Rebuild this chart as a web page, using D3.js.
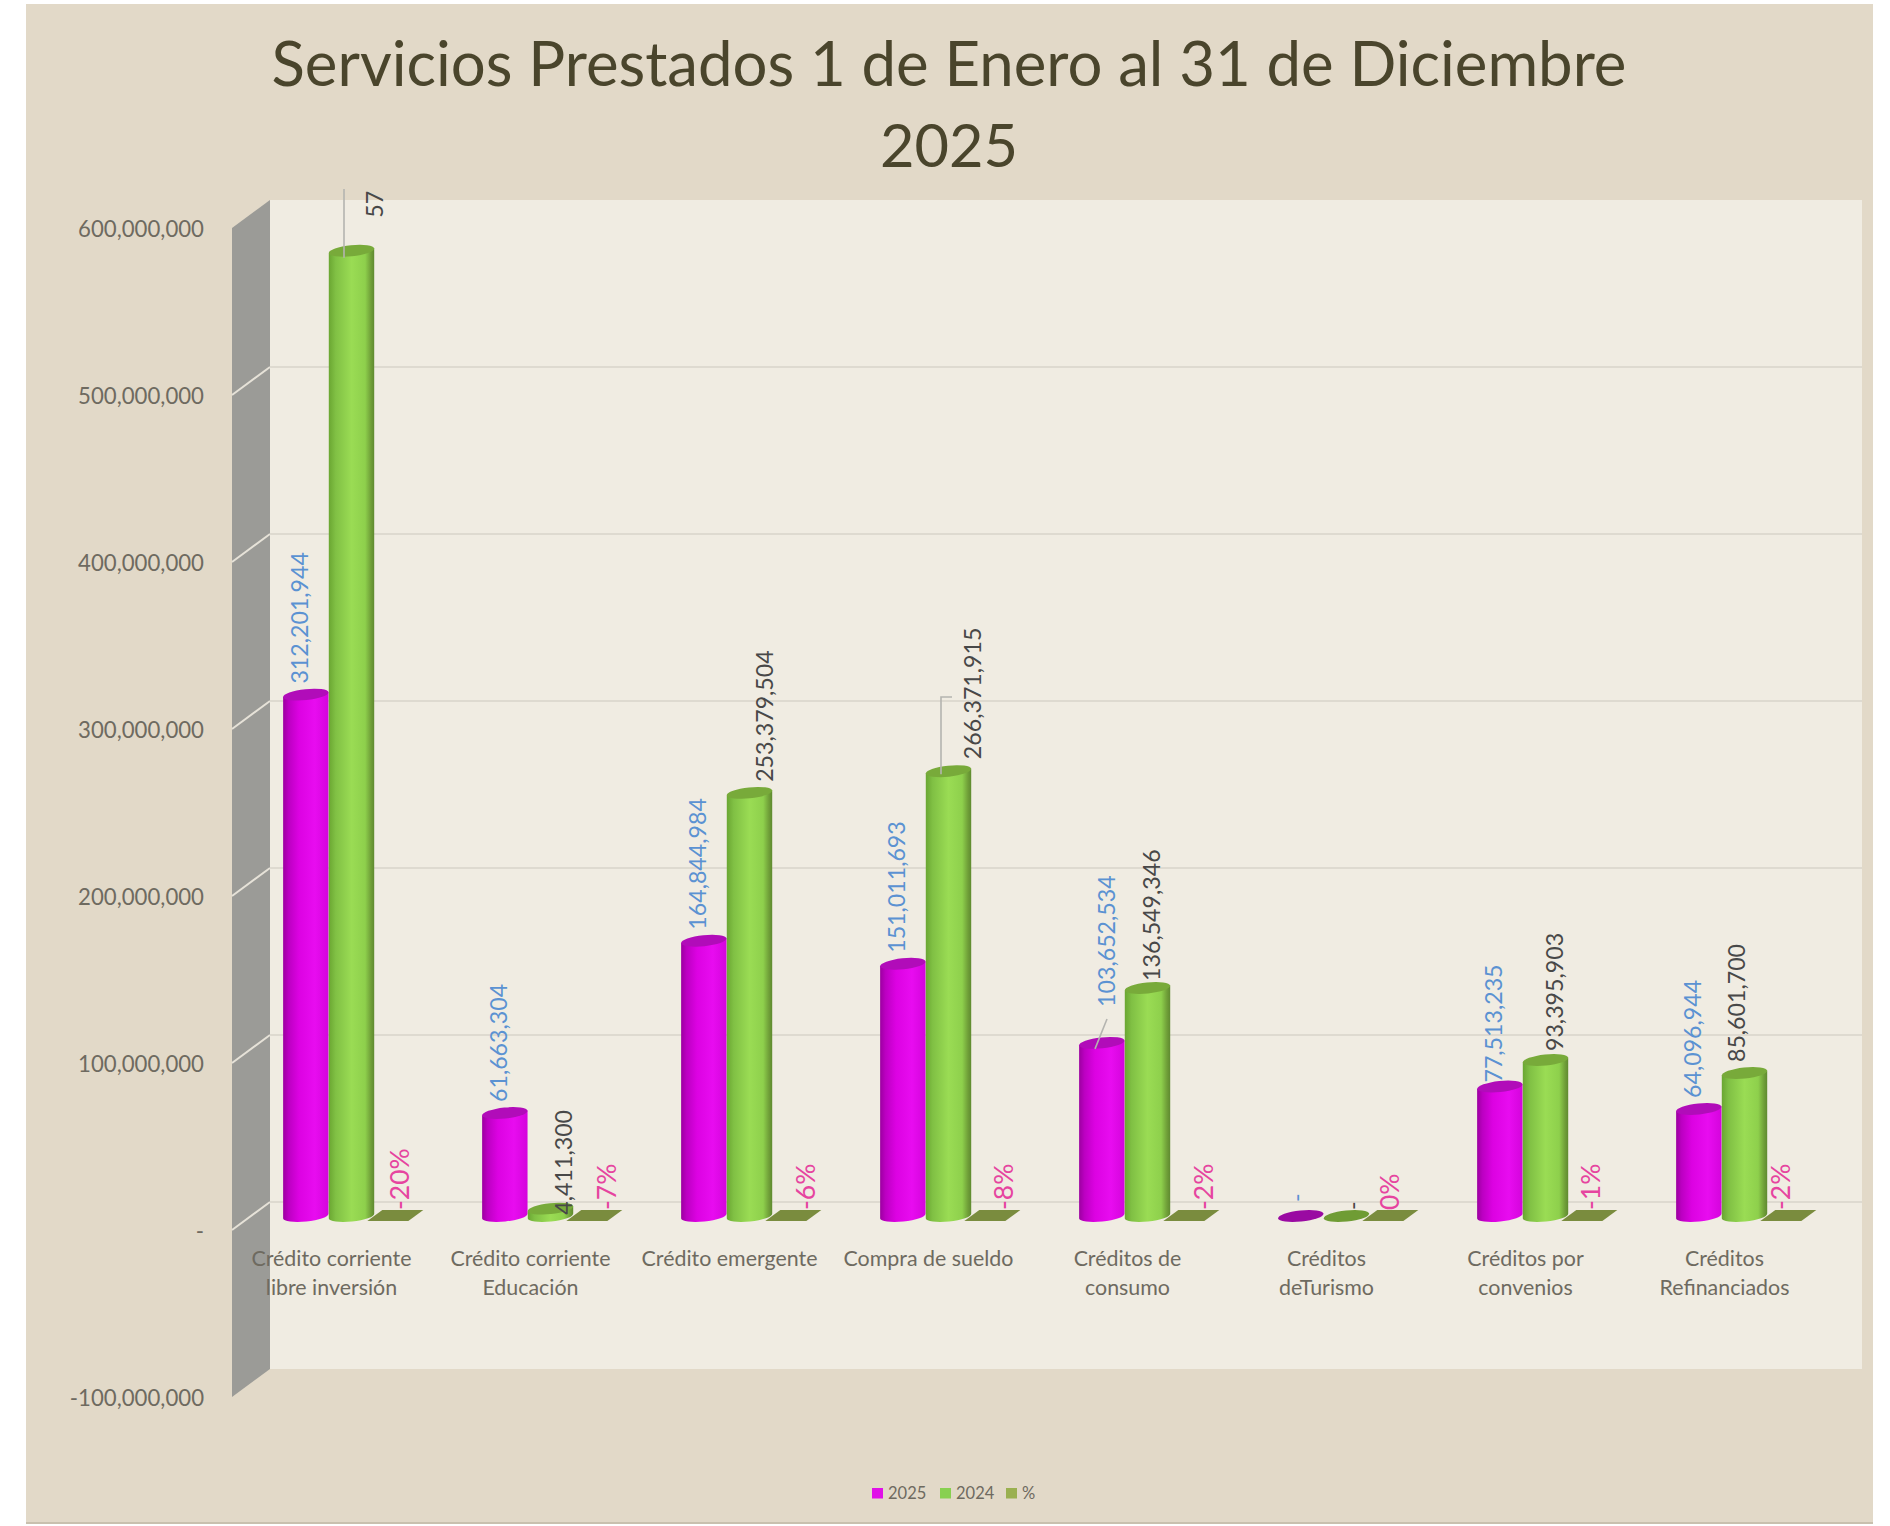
<!DOCTYPE html>
<html>
<head>
<meta charset="utf-8">
<script src="https://cdn.jsdelivr.net/npm/d3@7"></script>
<style>
  html, body { margin: 0; padding: 0; background: #fff; }
  svg { display: block; }
  text { font-family: Lato, "Open Sans", sans-serif; }
</style>
</head>
<body>
<div id="chart"></div>
<script>
const categories = [
  "Crédito corriente|libre inversión",
  "Crédito corriente|Educación",
  "Crédito emergente",
  "Compra de sueldo",
  "Créditos de|consumo",
  "Créditos|deTurismo",
  "Créditos por|convenios",
  "Créditos|Refinanciados"
];
const values2025 = [312201944, 61663304, 164844984, 151011693, 103652534, 0, 77513235, 64096944];
const values2024 = [578000000, 4411300, 253379504, 266371915, 136549346, 0, 93395903, 85601700];
const percents = [-0.20, -0.07, -0.06, -0.08, -0.02, 0, -0.01, -0.02];
const axisTicks = [600000000, 500000000, 400000000, 300000000, 200000000, 100000000, 0, -100000000];
const seriesNames = ["2025", "2024", "%"];
const titleLines = ["Servicios Prestados 1 de Enero al 31 de Diciembre", "2025"];

const WIDTH = 1890;
const HEIGHT = 1526;
const PANEL = { LEFT: 26, RIGHT: 1873, TOP: 4, BOTTOM: 1524 };
const DEPTH = { X: 38, Y: 28 };
const WALL = { LEFT: 270, RIGHT: 1862, TOP: 200, BOTTOM: 1369 };

// plain hyphen for negatives, like the spreadsheet
const locale = d3.formatLocale({ decimal: ".", thousands: ",", grouping: [3], currency: ["$", ""], minus: "-" });
const commaFmt = locale.format(",");
const pctFmt = locale.format(".0%");

const svg = d3.select("#chart").append("svg")
  .attr("width", WIDTH)
  .attr("height", HEIGHT);

const defs = svg.append("defs");

function addGradient(id, stops) {
  defs.append("linearGradient").attr("id", id)
    .selectAll("stop").data(stops).enter().append("stop")
    .attr("offset", d => d[0])
    .attr("stop-color", d => d[1]);
}
addGradient("gradMagenta", [[0, "#9c00a0"], [0.12, "#bc00c2"], [0.35, "#dc02e2"], [0.7, "#e80cf0"], [1, "#d404dc"]]);
addGradient("gradGreen", [[0, "#6aa632"], [0.15, "#80c044"], [0.5, "#9adc54"], [0.8, "#8ed04c"], [0.93, "#6f9e38"], [1, "#5f8a30"]]);

// y is the back wall, bars stand half way and the tick labels on the front edge
const y = d3.scaleLinear().domain([-100000000, 600000000]).range([WALL.BOTTOM, WALL.TOP]);
const barY = v => y(v) + DEPTH.Y / 2;
const frontY = v => y(v) + DEPTH.Y;

const x = d3.scaleBand().domain(categories).range([WALL.LEFT - DEPTH.X, WALL.RIGHT - DEPTH.X]);
const inner = d3.scaleBand().domain(seriesNames).range([51, 188]);

// panel
svg.append("rect")
  .attr("x", PANEL.LEFT).attr("y", PANEL.TOP)
  .attr("width", PANEL.RIGHT - PANEL.LEFT).attr("height", PANEL.BOTTOM - PANEL.TOP)
  .attr("fill", "#e2d9c8");
svg.append("line")
  .attr("x1", PANEL.LEFT).attr("x2", PANEL.RIGHT)
  .attr("y1", PANEL.BOTTOM - 1).attr("y2", PANEL.BOTTOM - 1)
  .attr("stroke", "#c9c0ae").attr("stroke-width", 2);

// back wall and side wall
svg.append("rect")
  .attr("x", WALL.LEFT).attr("y", WALL.TOP)
  .attr("width", WALL.RIGHT - WALL.LEFT).attr("height", WALL.BOTTOM - WALL.TOP)
  .attr("fill", "#f0ece2");
svg.append("polygon")
  .attr("points", [
    [WALL.LEFT, y(600000000)], [WALL.LEFT, y(-100000000)],
    [WALL.LEFT - DEPTH.X, frontY(-100000000)], [WALL.LEFT - DEPTH.X, frontY(600000000)]
  ].join(" "))
  .attr("fill", "#9b9b97");

// gridlines
const gridTicks = axisTicks.slice(1, -1);
svg.append("g").selectAll("line").data(gridTicks).enter().append("line")
  .attr("x1", WALL.LEFT).attr("x2", WALL.RIGHT)
  .attr("y1", d => y(d)).attr("y2", d => y(d))
  .attr("stroke", "#dedad0").attr("stroke-width", 2);
svg.append("g").selectAll("line").data(gridTicks).enter().append("line")
  .attr("x1", WALL.LEFT).attr("x2", WALL.LEFT - DEPTH.X)
  .attr("y1", d => y(d)).attr("y2", d => frontY(d))
  .attr("stroke", "#e6e2d8").attr("stroke-width", 2);

// value axis
const axis = svg.append("g")
  .attr("transform", `translate(204,1)`)
  .call(d3.axisLeft(y.copy().range(y.range().map(r => r + DEPTH.Y)))
    .tickValues(axisTicks)
    .tickSize(0)
    .tickPadding(0)
    .tickFormat(d => d === 0 ? "-" : commaFmt(d)));
axis.select(".domain").remove();
axis.selectAll("text")
  .attr("font-size", 22.2)
  .attr("fill", "#6e6a60");

// category labels
const catLabels = svg.append("g").selectAll("text").data(categories).enter().append("text")
  .attr("x", d => x(d) + x.bandwidth() / 2)
  .attr("y", 1266)
  .attr("text-anchor", "middle")
  .attr("font-size", 21.4)
  .attr("fill", "#6e6a60");
catLabels.selectAll("tspan").data(d => d.split("|")).enter().append("tspan")
  .attr("x", function () { return d3.select(this.parentNode).attr("x"); })
  .attr("dy", (d, i) => i ? 29 : 0)
  .text(d => d);

// cylinders
const RY = 5.5;
const TILT = -6;

function cylinderBody(xc, rx, yTop, yBase) {
  const dx = rx * Math.cos(TILT * Math.PI / 180);
  const dy = rx * Math.sin(TILT * Math.PI / 180);
  const p = d3.path();
  p.moveTo(xc - dx, yTop - dy);
  p.lineTo(xc - dx, yBase - dy);
  return p.toString() +
    `A${rx},${RY} ${TILT} 0 0 ${xc + dx},${yBase + dy}` +
    `L${xc + dx},${yTop + dy}Z`;
}

function drawSeries(name, values, fillId, capColor, flatColor) {
  const rx = inner.bandwidth() / 2;
  const g = svg.append("g");
  categories.forEach((c, i) => {
    const xc = x(c) + inner(name) + rx;
    const v = values[i];
    if (v > 0) {
      g.append("path")
        .attr("d", cylinderBody(xc, rx, barY(v), barY(0)))
        .attr("fill", `url(#${fillId})`);
    }
    g.append("ellipse")
      .attr("rx", rx).attr("ry", RY)
      .attr("transform", `translate(${xc},${barY(v)}) rotate(${TILT})`)
      .attr("fill", v > 0 ? capColor : flatColor);
  });
}
drawSeries("2025", values2025, "gradMagenta", "#b10cb9", "#9a0aa2");
drawSeries("2024", values2024, "gradGreen", "#78aa3a", "#6f9c34");

// % series lies flat on the floor
svg.append("g").selectAll("polygon").data(percents).enter().append("polygon")
  .attr("points", (d, i) => {
    const left = x(categories[i]) + inner("%") - 7;
    const base = barY(d) + 5;
    return [[left, base], [left + 41, base], [left + 56, base - 11], [left + 15, base - 11]].join(" ");
  })
  .attr("fill", "#7a8c3e");

// leader lines
const leaderColor = "#b4b4b0";
const leaders = svg.append("g").attr("fill", "none").attr("stroke", leaderColor).attr("stroke-width", 1.6);
leaders.append("path").attr("d", d3.line()([[344, 189], [344, barY(values2024[0]) + 7]]));
leaders.append("path").attr("d", d3.line()([[952, 697], [941, 697], [941, barY(values2024[3]) + 3]]));
leaders.append("path").attr("d", d3.line()([[1107, 1019], [1095, barY(values2025[4]) + 6]]));

// data labels, read bottom to top
const numFmt = d => d === 0 ? "-" : commaFmt(d);
const truncatedLabels = { 0: "57" };

function drawLabels(name, values, text, color, size, dxBase, gap, nudges) {
  const g = svg.append("g").attr("font-size", size).attr("fill", color);
  values.forEach((v, i) => {
    const n = nudges[i] || [0, 0];
    const xc = x(categories[i]) + inner(name) + inner.bandwidth() / 2 + dxBase + n[0];
    const yb = barY(v) - gap + n[1];
    g.append("text")
      .attr("transform", `translate(${xc},${yb}) rotate(-90)`)
      .attr("dy", "0.36em")
      .text(text(v, i));
  });
}

drawLabels("2025", values2025, numFmt, "#5b92d2", 23.2, -6, 11, {
  1: [0, 0],
  4: [11, -25],
  5: [2, -3],
  6: [0, 7]
});
drawLabels("2024", values2024, (v, i) => truncatedLabels[i] || numFmt(v), "#484848", 23.2, 15, 11, {
  0: [8, -22],
  1: [-2, 17],
  3: [9, -1],
  4: [-11, 4],
  5: [-9, 5],
  6: [-6, 2],
  7: [-23, 0]
});
drawLabels("%", percents, d => pctFmt(d), "#e6449f", 26.5, 3, 6, {
  0: [-1, 0],
  1: [7, 0],
  2: [7, 0],
  3: [6, 0],
  4: [7, 0],
  5: [-6, 0],
  6: [-4, 0],
  7: [-13, 0]
});

// title
const titleSizes = [61.7, 59.5];
svg.append("g").selectAll("text").data(titleLines).enter().append("text")
  .attr("x", 949)
  .attr("y", (d, i) => 86 + i * 81)
  .attr("text-anchor", "middle")
  .attr("font-size", (d, i) => titleSizes[i])
  .attr("fill", "#4a452c")
  .text(d => d);

// legend
const legendSwatches = ["#e010e8", "#88d050", "#9ab050"];
const legendX = d3.scaleOrdinal().domain(seriesNames).range([872, 940, 1006]);
const legend = svg.append("g").selectAll("g").data(seriesNames).enter().append("g")
  .attr("transform", d => `translate(${legendX(d)},1488)`);
legend.append("rect")
  .attr("width", 11).attr("height", 10.5)
  .attr("fill", (d, i) => legendSwatches[i]);
legend.append("text")
  .attr("x", 16).attr("y", 11)
  .attr("font-size", 16.5)
  .attr("fill", "#6e6a60")
  .text(d => d);
</script>
</body>
</html>
